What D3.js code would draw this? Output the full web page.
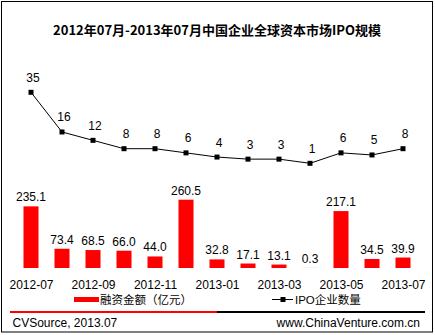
<!DOCTYPE html>
<html><head><meta charset="utf-8">
<script src="https://cdn.jsdelivr.net/npm/d3@7"></script>
<style>
body{margin:0;background:#fff;}
svg{display:block;font-family:"Liberation Sans",Arial,"Noto Sans CJK SC",sans-serif;}
</style></head>
<body>
<svg id="c" width="435" height="335"></svg>
<script>
const title = "2012年07月-2013年07月中国企业全球资本市场IPO规模";
const months = ["2012-07","2012-08","2012-09","2012-10","2012-11","2012-12","2013-01","2013-02","2013-03","2013-04","2013-05","2013-06","2013-07"];
const amounts = [235.1,73.4,68.5,66.0,44.0,260.5,32.8,17.1,13.1,0.3,217.1,34.5,39.9];
const counts = [35,16,12,8,8,6,4,3,3,1,6,5,8];
const tickLabels = ["2012-07","2012-09","2012-11","2013-01","2013-03","2013-05","2013-07"];
const barLegend = "融资金额（亿元）";
const lineLegend = "IPO企业数量";
const sourceText = "CVSource, 2013.07";
const siteText = "www.ChinaVenture.com.cn";

const svg = d3.select("#c");
svg.append("rect").attr("x",1.5).attr("y",1.5).attr("width",431).attr("height",330.5)
  .attr("fill","#fff").attr("stroke","#000").attr("stroke-width",1);

svg.append("text").attr("x",217).attr("y",35).attr("text-anchor","middle")
  .attr("font-size",13).attr("font-weight","bold")
  .attr("font-family","'Noto Sans CJK SC','Liberation Sans',sans-serif").text(title);

const x = d3.scalePoint().domain(months).range([31,403]);
const yBar = d3.scaleLinear().domain([0,260.5]).range([268,199.7]);
const yLine = d3.scaleLinear().domain([0,35]).range([165.4,92.3]);
const bw = 15;

// bars
svg.selectAll("rect.bar").data(amounts).enter().append("rect").attr("class","bar")
  .attr("x",(d,i)=>x(months[i])-bw/2).attr("width",bw)
  .attr("y",d=>yBar(d)).attr("height",d=>Math.max(0,268-yBar(d)))
  .attr("fill","#ff0000");
svg.selectAll("text.bl").data(amounts).enter().append("text").attr("class","bl")
  .attr("x",(d,i)=>x(months[i])).attr("y",d=>yBar(d)-5)
  .attr("text-anchor","middle").attr("font-size",12).attr("fill","#000")
  .text(d=>d.toFixed(1));

// x labels
const xAxis = d3.axisBottom(x).tickValues(tickLabels).tickSize(0).tickPadding(0);
const gx = svg.append("g").attr("transform","translate(0,280.5)").call(xAxis);
gx.select(".domain").remove();
gx.selectAll("text").attr("font-size",12).attr("fill","#000")
  .attr("font-family","'Liberation Sans',Arial,sans-serif");

// line
const line = d3.line().x((d,i)=>x(months[i])).y(d=>yLine(d));
svg.append("path").datum(counts).attr("d",line).attr("fill","none")
  .attr("stroke","#000").attr("stroke-width",1);
svg.selectAll("rect.mk").data(counts).enter().append("rect").attr("class","mk")
  .attr("x",(d,i)=>x(months[i])-2.5).attr("y",d=>yLine(d)-2.5)
  .attr("width",5).attr("height",5).attr("fill","#000");
svg.selectAll("text.ll").data(counts).enter().append("text").attr("class","ll")
  .attr("x",(d,i)=>x(months[i])+2).attr("y",d=>yLine(d)-10.5)
  .attr("text-anchor","middle").attr("font-size",12).attr("fill","#000")
  .text(d=>d);

// legend
svg.append("rect").attr("x",74).attr("y",297).attr("width",25).attr("height",5).attr("fill","#ff0000");
svg.append("text").attr("x",100).attr("y",304).attr("font-size",11.5)
  .attr("font-family","'Liberation Sans','Noto Sans CJK SC',sans-serif").text(barLegend);
svg.append("line").attr("x1",272).attr("x2",293).attr("y1",299.5).attr("y2",299.5).attr("stroke","#000");
svg.append("rect").attr("x",280.5).attr("y",297).attr("width",5).attr("height",5).attr("fill","#000");
svg.append("text").attr("x",295).attr("y",304).attr("font-size",11.5)
  .attr("font-family","'Liberation Sans','Noto Sans CJK SC',sans-serif").text(lineLegend);

// footer
svg.append("line").attr("x1",10).attr("x2",217).attr("y1",312).attr("y2",312).attr("stroke","#ff0000").attr("stroke-width",2);
svg.append("line").attr("x1",217).attr("x2",425).attr("y1",312).attr("y2",312).attr("stroke","#000").attr("stroke-width",2);
svg.append("text").attr("x",12.5).attr("y",327).attr("font-size",12).text(sourceText);
svg.append("text").attr("x",420).attr("y",327).attr("text-anchor","end").attr("font-size",12).text(siteText);
</script>
</body></html>
